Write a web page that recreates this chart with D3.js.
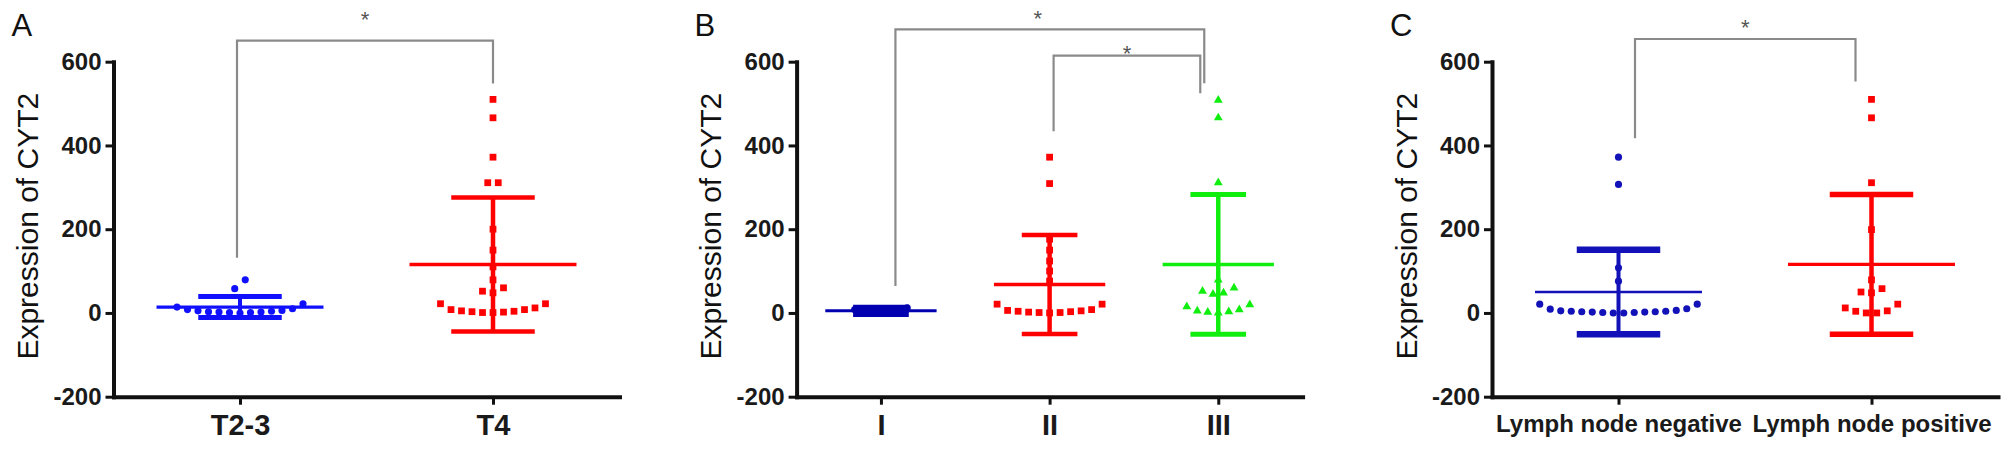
<!DOCTYPE html>
<html><head><meta charset="utf-8">
<script src="https://cdn.jsdelivr.net/npm/d3@7"></script>
<style>body{margin:0;background:#fff}svg{display:block}</style>
</head><body><svg id="chart" width="2008" height="450"></svg>
<script>
// ---------------- data ----------------
const yTickValues = [-200, 0, 200, 400, 600];
const yTickLabels = ["-200", "0", "200", "400", "600"];
const yLabel = "Expression of CYT2";

// Panel A
const catsA = ["T2-3", "T4"];
const valsA_T23 = [79, 58, 22, 14, 10, 8, 6, 5, 3, 2, 1, 0, 1, 2, 4];
const valsA_T4 = [510, 466, 372, 311, 311, 200, 150, 110, 79, 60, 52, 48, 22, 22, 12, 8, 5, 3, 1, 1, 2, 4, 8];
const meanA = [14, 116];
const sdA = [25, 160];

// Panel B
const catsB = ["I", "II", "III"];
const valsB_I = [0, 1, 3, 5, 8, 12];
const valsB_II = [372, 309, 176, 150, 124, 100, 76, 21, 21, 8, 6, 5, 4, 3, 2, 1, 1, 0];
const valsB_III = [508, 466, 311, 79, 60, 52, 48, 45, 20, 15, 8, 5, 3, 2, 0];
const meanB = [5, 68, 116];
const sdB = [5, 118, 167];

// Panel C
const catsC = ["Lymph node negative", "Lymph node positive"];
const valsC_neg = [372, 307, 108, 76, 21, 10, 6, 4, 3, 2, 1, 0, 0, 1, 2, 3, 4, 5, 9, 21];
const valsC_pos = [510, 466, 311, 199, 79, 58, 50, 48, 21, 12, 5, 4, 0, 0];
const meanC = [50, 116];
const sdC = [101, 167];

// ---------------- drawing ----------------
const svg = d3.select("#chart");
const FONT = "'Liberation Sans', Arial, Helvetica, sans-serif";
const y = d3.scaleLinear().domain([-200, 600]).range([396.7, 61.7]);
const AXIS_W = 506;

const panels = [
  { letter: "A", axisX: 113.5, cats: catsA, vals: [valsA_T23, valsA_T4], mean: meanA, sd: sdA,
    colors: ["#1010ff", "#ff0000"], symbols: [d3.symbolCircle, d3.symbolSquare],
    meanW: [3.3, 3.5], capW: [5, 4.5], vW: [4, 4.5], catSize: 29,
    brackets: [{ a: 0, b: 1, top: 40.7, dxa: -3, dxb: 0, gapA: 22, gapB: 16, star: 25 }] },
  { letter: "B", axisX: 796.6, cats: catsB, vals: [valsB_I, valsB_II, valsB_III], mean: meanB, sd: sdB,
    colors: ["#0000b0", "#ff0000", "#10ee10"], symbols: [d3.symbolCircle, d3.symbolSquare, d3.symbolTriangle],
    meanW: [3, 3.5, 3.5], capW: [8, 4.5, 5], vW: [4, 4.5, 4.5], catSize: 29,
    brackets: [{ a: 0, b: 2, top: 29.3, dxa: 14.5, dxb: -14, gapA: 22, gapB: 17, star: 14, starDx: -12 },
               { a: 1, b: 2, top: 55.7, dxa: 4, dxb: -18, gapA: 26, gapB: 7, star: 6 }] },
  { letter: "C", axisX: 1492, cats: catsC, vals: [valsC_neg, valsC_pos], mean: meanC, sd: sdC,
    colors: ["#1212b8", "#ff0000"], symbols: [d3.symbolCircle, d3.symbolSquare],
    meanW: [2.7, 3.3], capW: [6.5, 5.5], vW: [4, 4.5], catSize: 24,
    brackets: [{ a: 0, b: 1, top: 39, dxa: 16.5, dxb: -16, gapA: 19, gapB: 18, star: 15 }] }
];

function layoutPoints(vals, cx, dx, binPx) {
  const sorted = vals.slice().sort((p, q) => p - q);
  const bins = []; let cur = null;
  for (const v of sorted) {
    if (cur && (y(cur[0]) - y(v)) <= binPx) cur.push(v);
    else { cur = [v]; bins.push(cur); }
  }
  const out = [];
  for (const b of bins) {
    const n = b.length, slots = [];
    if (n % 2 === 1) {
      slots.push(0);
      for (let k = 1; slots.length < n; k++) { slots.push(-k); if (slots.length < n) slots.push(k); }
    } else {
      for (let k = 0; slots.length < n; k++) { slots.push(-(k + 0.5)); slots.push(k + 0.5); }
    }
    b.forEach((v, i) => out.push({ v, x: cx + slots[i] * dx, y: y(v) }));
  }
  return out;
}

panels.forEach(p => {
  const g = svg.append("g");
  const x = d3.scalePoint().domain(p.cats).range([p.axisX, p.axisX + AXIS_W]).padding(0.5);
  const step = x.step();

  // panel letter
  g.append("text").attr("x", p.axisX - 102).attr("y", 36)
    .attr("font-family", FONT).attr("font-size", 31).attr("fill", "#111").text(p.letter);

  // y axis
  const ya = g.append("g").attr("transform", `translate(${p.axisX},0)`)
    .call(d3.axisLeft(y).tickValues(yTickValues).tickFormat((d, i) => yTickLabels[i])
      .tickSize(8).tickSizeOuter(0).tickPadding(4));
  ya.select(".domain").attr("stroke", "#111").attr("stroke-width", 4).attr("stroke-linecap", "square");
  ya.selectAll(".tick line").attr("stroke", "#111").attr("stroke-width", 3);
  ya.selectAll(".tick text").attr("font-family", FONT).attr("font-size", 24).attr("font-weight", "bold").attr("fill", "#1a1a1a");

  // x axis
  const xa = g.append("g").attr("transform", `translate(0,${y(-200)})`)
    .call(d3.axisBottom(x).tickSize(8).tickSizeOuter(0).tickPadding(10));
  xa.select(".domain").attr("stroke", "#111").attr("stroke-width", 4).attr("stroke-linecap", "square");
  xa.selectAll(".tick line").attr("stroke", "#111").attr("stroke-width", 3);
  xa.selectAll(".tick text").attr("font-family", FONT).attr("font-size", p.catSize).attr("font-weight", "bold").attr("fill", "#1a1a1a");

  // y title
  g.append("text").attr("transform", `translate(${p.axisX - 86},${y(200) - 3}) rotate(-90)`)
    .attr("text-anchor", "middle").attr("dy", "0.35em")
    .attr("font-family", FONT).attr("font-size", 30).attr("fill", "#111").text(yLabel);

  // groups
  p.cats.forEach((c, i) => {
    const cx = x(c), col = p.colors[i];
    const m = p.mean[i], s = p.sd[i];
    const gg = g.append("g");
    gg.append("line").attr("x1", cx).attr("x2", cx).attr("y1", y(m - s)).attr("y2", y(m + s))
      .attr("stroke", col).attr("stroke-width", p.vW[i]);
    [m - s, m + s].forEach(v => gg.append("line")
      .attr("x1", cx - 0.165 * step).attr("x2", cx + 0.165 * step).attr("y1", y(v)).attr("y2", y(v))
      .attr("stroke", col).attr("stroke-width", p.capW[i]));
    gg.append("line").attr("x1", cx - 0.33 * step).attr("x2", cx + 0.33 * step).attr("y1", y(m)).attr("y2", y(m))
      .attr("stroke", col).attr("stroke-width", p.meanW[i]);
    const pts = layoutPoints(p.vals[i], cx, 10.5, 9.5);
    const sym = d3.symbol().type(p.symbols[i]).size(p.symbols[i] === d3.symbolTriangle ? 34 : (p.symbols[i] === d3.symbolSquare ? 46 : 40));
    gg.selectAll("path.pt").data(pts).join("path").attr("class", "pt")
      .attr("transform", d => `translate(${d.x},${d.y})`).attr("d", sym).attr("fill", col);
  });

  // significance brackets
  p.brackets.forEach(b => {
    const xa_ = x(p.cats[b.a]) + b.dxa, xb_ = x(p.cats[b.b]) + b.dxb;
    const ya_ = y(d3.max(p.vals[b.a])) - b.gapA, yb_ = y(d3.max(p.vals[b.b])) - b.gapB;
    g.append("path").attr("d", `M${xa_},${ya_}V${b.top}H${xb_}V${yb_}`)
      .attr("fill", "none").attr("stroke", "#8a8a8a").attr("stroke-width", 2.2);
    g.append("text").attr("x", (xa_ + xb_) / 2 + (b.starDx || 0)).attr("y", b.top - b.star + 11)
      .attr("text-anchor", "middle").attr("font-family", FONT).attr("font-size", 22).attr("fill", "#555").text("*");
  });
});
</script>
</body></html>
